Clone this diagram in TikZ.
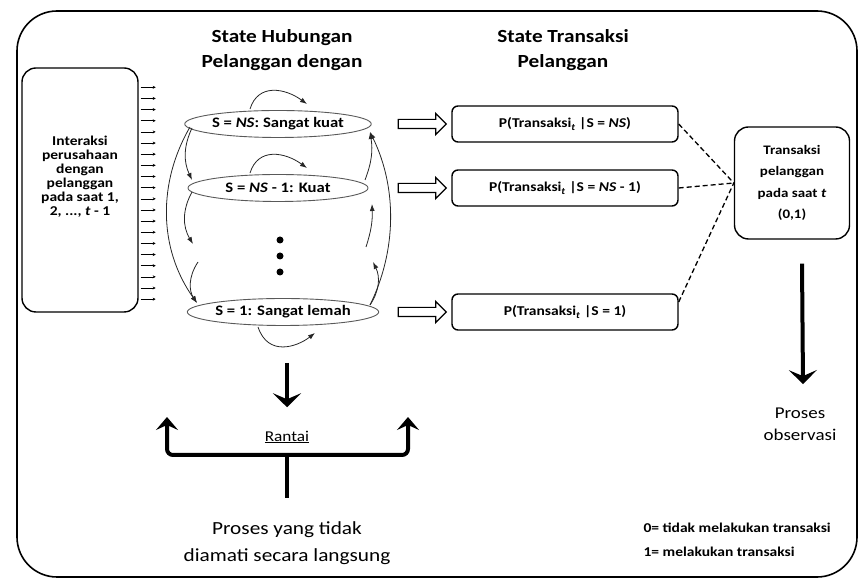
\documentclass[tikz,border=0pt]{standalone}
\usepackage{fontspec}
\setmainfont{Carlito}[FakeStretch=1.15]
\usetikzlibrary{arrows.meta,shapes.geometric,shapes.arrows}

\begin{document}
\begin{tikzpicture}[x=1pt,y=1pt,
  kotak/.style={draw,line width=1.4pt,rounded corners=14pt,align=center,inner sep=2pt},
  pkotak/.style={draw,line width=1.4pt,rounded corners=6pt,minimum width=226pt,minimum height=36pt,font=\bfseries\fontsize{13.5}{16}\selectfont},
  state/.style={draw=black!65,line width=0.9pt,ellipse,minimum width=180pt,minimum height=27pt,inner sep=0pt,font=\bfseries\fontsize{14.5}{17}\selectfont},
  trans/.style={draw=black!85,line width=0.8pt,-{Latex[length=7pt,width=5pt]}},
  kecil/.style={line width=0.5pt,-{Stealth[length=3pt,width=3pt]}},
  hampa/.style={draw,line width=1.2pt,single arrow,single arrow head extend=6pt,minimum height=48pt,inner xsep=0pt,inner ysep=4pt},
  tebal/.style={line width=4pt,-{Stealth[length=14pt,width=28pt,inset=6pt]}},
  judul/.style={font=\bfseries\fontsize{18.5}{25}\selectfont,align=center},
  putus/.style={line width=1.3pt,dash pattern=on 5pt off 3pt}
]
\useasboundingbox (0,0) rectangle (861,580);
% Bingkai luar
\draw[line width=1.6pt,rounded corners=40pt] (17,3) rectangle (857,569);

% Judul
\node[judul] (j1) at (282,530) {State Hubungan\\Pelanggan dengan};
\node[judul] (j2) at (563,530) {State Transaksi\\Pelanggan};

% Interaksi
\node[kotak,minimum width=116pt,minimum height=244pt,text depth=29pt,font=\bfseries\fontsize{13.5}{14}\selectfont] (inter) at (80,390)
  {Interaksi\\perusahaan\\dengan\\pelanggan\\pada saat 1,\\2, ..., \textit{t} - 1};
\foreach \i in {0,...,19}
  \draw[kecil] ([xshift=2pt,yshift={-20pt-\i*11.15pt}]inter.north east) -- ++(15,0);

% State hubungan
\node[state] (e1) at (278,456) {S = \textit{NS}: Sangat kuat};
\node[state] (e2) at (278,392) {S = \textit{NS} - 1: Kuat};
\node[state] (e3) at (283,268) {S = 1: Sangat lemah};
\foreach \n/\y in {1/340,2/324,3/308}
  \node[circle,fill,inner sep=0pt,minimum size=7pt] (t\n) at (280,\y) {};

% Transisi
\draw[trans] ([xshift=-28pt,yshift=1pt]e1.north) .. controls +(8,26) and +(-22,16) .. ([xshift=29pt,yshift=6pt]e1.north);
\draw[trans] ([xshift=-28pt,yshift=1pt]e2.north) .. controls +(8,26) and +(-22,16) .. ([xshift=29pt,yshift=6pt]e2.north);
\draw[trans] ([xshift=-25pt,yshift=-1pt]e3.south) .. controls +(10,-30) and +(-18,-14) .. ([xshift=32pt,yshift=-7pt]e3.south);
\coordinate (kiri1) at (193,336);
\coordinate (kiri2) at (198,318);
\coordinate (kanan1) at (373,318);
\coordinate (kanan2) at (366,333);
\draw[trans] ([xshift=-86pt,yshift=-4pt]e1.center) to[bend right=25] ([xshift=-86pt,yshift=8pt]e2.center);
\draw[trans] ([xshift=-88pt,yshift=-3pt]e1.center) .. controls +(-32,-55) and +(-39,55) .. ([xshift=-86pt,yshift=9pt]e3.center);
\draw[trans] ([xshift=-86pt,yshift=-4pt]e2.center) to[bend right=30] (kiri1);
\draw[trans] (kiri2) .. controls +(-10,-15) and +(-8,12) .. ([xshift=-86pt,yshift=9pt]e3.center);
\draw[trans] ([xshift=87pt,yshift=7pt]e3.center) .. controls +(27,55) and +(27,-55) .. ([xshift=92pt,yshift=-8pt]e1.center);
\draw[trans] ([xshift=87pt,yshift=8pt]e2.center) to[bend right=15] ([xshift=92pt,yshift=-8pt]e1.center);
\draw[trans] ([xshift=87pt,yshift=7pt]e3.center) to[bend right=30] (kanan1);
\draw[trans] (kanan2) to[bend right=10] ([xshift=94pt,yshift=-16pt]e2.center);

% State transaksi
\node[pkotak] (p1) at (565,456) {P(Transaksi\textsubscript{\textit{t}} |S = \textit{NS})};
\node[pkotak] (p2) at (565,392) {P(Transaksi\textsubscript{\textit{t}} |S = \textit{NS} - 1)};
\node[pkotak] (p3) at (565,268) {P(Transaksi\textsubscript{\textit{t}} |S = 1)};
\foreach \n/\y in {1/456,2/392,3/268}
  \node[hampa] (h\n) at (420,\y) {};

% Observasi
\node[kotak,minimum width=115pt,minimum height=112pt,font=\bfseries\fontsize{13}{21.5}\selectfont] (rb) at (792,397)
  {Transaksi\\pelanggan\\pada saat \textit{t}\\(0,1)};
\draw[putus] (p1.east) -- (rb.west);
\draw[putus] (p2.east) -- (rb.west);
\draw[putus] ([yshift=10pt]p3.east) -- (rb.west);
\node[font=\fontsize{16.5}{22}\selectfont,align=center] (obs) at (800,156) {Proses\\observasi};
\draw[tebal] ([xshift=10pt,yshift=-24pt]rb.south) -- ([xshift=3pt,yshift=20pt]obs.north);

% Rantai
\node[font=\fontsize{15}{17}\selectfont] (rantai) at (287,143) {\underline{Rantai}};
\draw[tebal] ([xshift=4pt,yshift=-37pt]e3.south) -- ([yshift=20pt]rantai.north);
\coordinate (kiri) at (167,163);
\coordinate (kanan) at (408,163);
\coordinate (tengah) at (287,125);
\draw[line width=4pt,rounded corners=6pt,{Stealth[length=13pt,width=22pt,inset=5pt]}-{Stealth[length=13pt,width=22pt,inset=5pt]}]
  (kiri) |- (tengah) -| (kanan);
\node[font=\fontsize{18.5}{27}\selectfont,align=center] (tak) at (287,37) {Proses yang tidak\\diamati secara langsung};
\draw[line width=4pt] (tengah) -- ([yshift=20pt]tak.north);

% Keterangan
\node[anchor=west,align=left,font=\bfseries\fontsize{13.5}{24}\selectfont] (ket) at (640,40) {0= tidak melakukan transaksi\\1= melakukan transaksi};
\end{tikzpicture}
\end{document}
